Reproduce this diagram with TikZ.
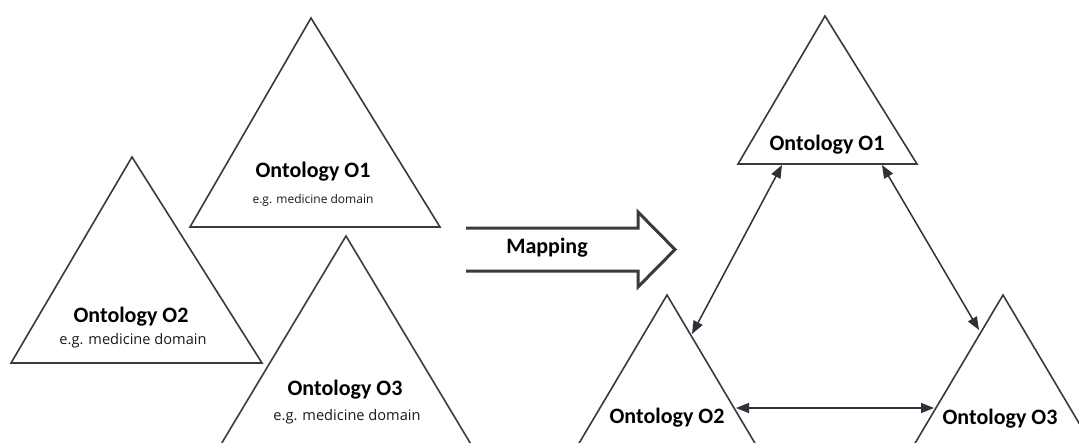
\documentclass[tikz,border=0pt]{standalone}
\usepackage{fontspec}
\setmainfont{Carlito}
\newfontfamily\subfont{Open Sans}
\usetikzlibrary{arrows.meta}
\definecolor{edgegray}{HTML}{3A3A3A}
\definecolor{linkgray}{HTML}{2E3138}
\tikzset{
  tri/.style={draw=edgegray, line width=1.6pt, line join=miter, fill=white},
  title/.style={font=\fontsize{22}{25}\selectfont\bfseries, text=black, inner sep=0pt},
  sub/.style={font=\subfont\fontsize{14.6}{17}\selectfont, text=black!90, inner sep=0pt},
  subsmall/.style={sub, font=\subfont\fontsize{12}{15}\selectfont},
  link/.style={draw=linkgray, line width=1.5pt,
    {Triangle[length=13pt,width=10pt]}-{Triangle[length=13pt,width=10pt]}},
  bigarrow/.style={draw=edgegray, line width=3pt, line join=miter},
}
\begin{document}
\begin{tikzpicture}[x=1pt, y=-1pt]
  \useasboundingbox (0,0) rectangle (1079,442);
  \clip (0,0) rectangle (1079,442);
  \fill[white] (0,0) rectangle (1079,442);

  % ---- separate ontologies ----
  \coordinate (A1t) at (311,18);  \coordinate (A1l) at (190,227); \coordinate (A1r) at (440,227);
  \coordinate (A2t) at (132,157); \coordinate (A2l) at (11,363);  \coordinate (A2r) at (262,363);
  \coordinate (A3t) at (346,236); \coordinate (A3l) at (220,446); \coordinate (A3r) at (472,446);
  \draw[tri] (A1t) -- (A1l) -- (A1r) -- cycle;
  \draw[tri] (A2t) -- (A2l) -- (A2r) -- cycle;
  \draw[tri] (A3t) -- (A3l) -- (A3r) -- cycle;

  \node[title]    (a1) at (313,172) {Ontology O1};
  \node[subsmall] (a1s) at (313,200) {e.g. medicine domain};
  \node[title]    (a2) at (131,317) {Ontology O2};
  \node[sub]      (a2s) at (133,341) {e.g. medicine domain};
  \node[title]    (a3) at (345,390) {Ontology O3};
  \node[sub]      (a3s) at (347,417) {e.g. medicine domain};

  % ---- mapping arrow ----
  \draw[bigarrow] (466,228) -- (638,228) -- (638,212) -- (675,249.5)
                  -- (638,287) -- (638,271) -- (466,271);
  \node[title] (map) at (547,248) {Mapping};

  % ---- mapped ontologies ----
  \coordinate (B1t) at (825,16);  \coordinate (B1l) at (738,164); \coordinate (B1r) at (917,164);
  \coordinate (B2t) at (667,295); \coordinate (B2l) at (578,445); \coordinate (B2r) at (756,445);
  \coordinate (B3t) at (1003,295); \coordinate (B3l) at (914,445); \coordinate (B3r) at (1092,445);
  \draw[tri] (B1t) -- (B1l) -- (B1r) -- cycle;
  \draw[tri] (B2t) -- (B2l) -- (B2r) -- cycle;
  \draw[tri] (B3t) -- (B3l) -- (B3r) -- cycle;

  \node[title] (b1) at (827,145) {Ontology O1};
  \node[title] (b2) at (667,418) {Ontology O2};
  \node[title] (b3) at (1000,419) {Ontology O3};

  % connection points on the triangle edges
  \coordinate (p12) at (782,165);
  \coordinate (p21) at (692,334);
  \coordinate (p13) at (882,165);
  \coordinate (p31) at (979,330);
  \coordinate (p23) at (736,408);
  \coordinate (p32) at (934,408);

  \draw[link] (p12) -- (p21);
  \draw[link] (p13) -- (p31);
  \draw[link] (p23) -- (p32);
\end{tikzpicture}
\end{document}
